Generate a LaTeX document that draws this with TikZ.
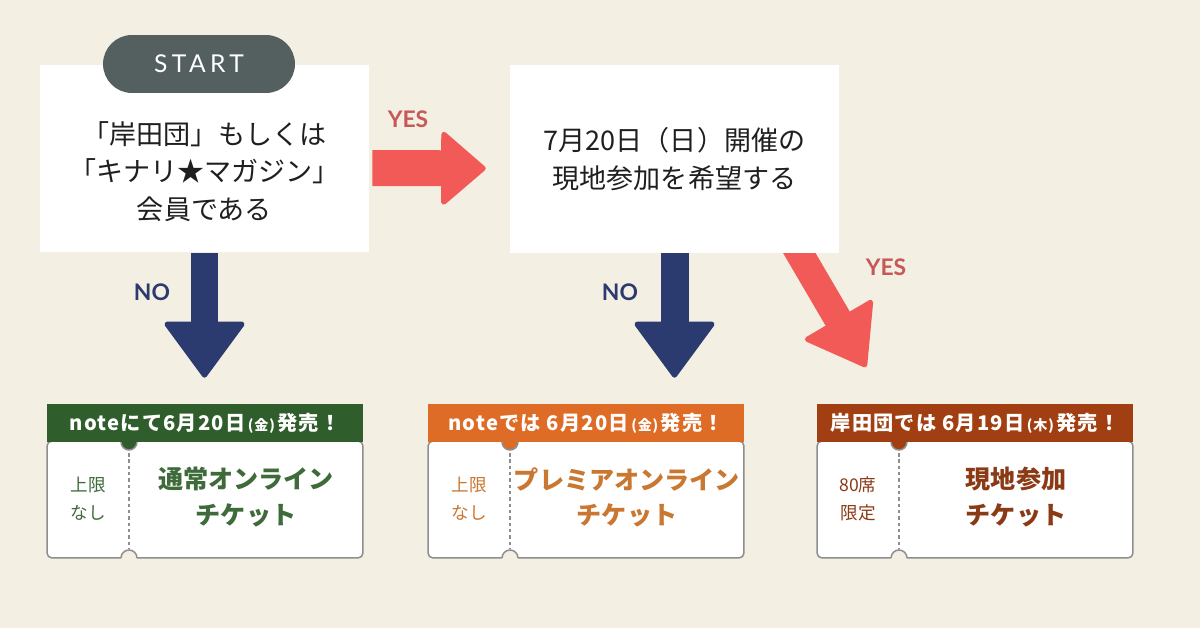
\documentclass[tikz,border=0pt]{standalone}
\usepackage{fontspec}
\setmainfont{Noto Sans CJK JP}
\newfontfamily\latinfont{Lato}
\newfontfamily\startfont{Lato}[LetterSpace=18]
\newfontfamily\hdrfont{Noto Sans CJK JP}[LetterSpace=6]
\usetikzlibrary{arrows.meta,calc,backgrounds}

\definecolor{bgcream}{HTML}{F4EFE3}
\definecolor{yesred}{HTML}{F25A57}
\definecolor{yestext}{HTML}{C65956}
\definecolor{nonavy}{HTML}{2B3A6F}
\definecolor{pillgray}{HTML}{545F60}
\definecolor{tkgray}{HTML}{8E8E8E}
\definecolor{grhead}{HTML}{2F5D2B}
\definecolor{grtext}{HTML}{3E6B39}
\definecolor{orhead}{HTML}{DE6C27}
\definecolor{ortext}{HTML}{C97731}
\definecolor{ruhead}{HTML}{A13F12}
\definecolor{rutext}{HTML}{8A3A15}

% 小号的星期
\newcommand{\yb}[1]{{\fontsize{8}{8}\selectfont\,(#1)\,}}

% 票：名字, 左边x, 表头色, 文字色, 表头, 左侧, 主文字
\newcommand{\ticket}[7]{%
  \node[tkbody] (#1) at ({#2+158},499.5) {};
  \fill[#3] ({#2+82},442) circle (8);
  \draw[tkline] ({#2+74},442) arc (180:0:8);
  \node[tkhead, fill=#3] (#1h) at ({#2+158},423) {#5};
  \draw[tkdash] ({#2+82},453) -- ({#2+82},548);
  \fill[bgcream] ({#2+82},558) circle (8);
  \draw[tkline] ({#2+74},558) arc (180:360:8);
  \node[tkside, text=#4] (#1s) at ({#2+41},499) {#6};
  \node[tkmain, text=#4] (#1m) at ({#2+199},497) {#7};
}

\begin{document}
\begin{tikzpicture}[x=0.02cm, y=-0.02cm,
    qbox/.style={fill=white, minimum width=6.58cm, minimum height=3.76cm, inner sep=0pt},
    qtext/.style={align=center, text=black!88, font=\fontsize{15.4}{21.5}\selectfont},
    startpill/.style={fill=pillgray, rounded corners=0.58cm, minimum width=3.84cm, minimum height=1.16cm, text=white, font=\startfont\fontsize{14}{14}\selectfont},
    yeslbl/.style={text=yestext, font=\latinfont\bfseries\fontsize{13}{13}\selectfont},
    nolbl/.style={text=nonavy, font=\latinfont\bfseries\fontsize{13}{13}\selectfont},
    yesarrow/.style={draw=yesred, line width=0.72cm, -{Triangle[length=0.92cm, width=1.56cm, line width=3pt, round]}},
    diagarrow/.style={draw=yesred, line width=0.56cm, -{Triangle[length=1.16cm, width=1.64cm, line width=3pt, round]}},
    noarrow/.style={draw=nonavy, line width=0.56cm, -{Triangle[length=1.16cm, width=1.68cm, line width=3pt, round]}},
    tkbody/.style={fill=white, draw=tkgray, line width=0.85pt, rounded corners=0.1cm, minimum width=6.32cm, minimum height=2.34cm, inner sep=0pt},
    tkline/.style={draw=tkgray, line width=0.85pt},
    tkdash/.style={draw=tkgray, line width=1pt, dash pattern=on 2pt off 1.6pt},
    tkhead/.style={minimum width=6.32cm, minimum height=0.76cm, inner sep=0pt, text=white, font=\hdrfont\bfseries\fontsize{11.5}{11.5}\selectfont},
    tkside/.style={align=center, font=\fontsize{10}{16}\selectfont},
    tkmain/.style={align=center, font=\bfseries\fontsize{14.3}{20}\selectfont}]
    \useasboundingbox (0,0) rectangle (1200,628);

    % 1. 问题框和 START
    \node[qbox] (q1) at (204.5,158.5) {};
    \node[qtext] (q1t) at (204.5,171.5) {「岸田団」もしくは\\「キナリ★マガジン」\\会員である};
    \node[startpill] (start) at (199,64) {START};
    \node[qbox, qtext] (q2) at (674.5,159) {7月20日（日）開催の\\現地参加を希望する};

    % 2. 三张票
    \ticket{tk1}{47}{grhead}{grtext}{noteにて6月20日\yb{金}発売！}{上限\\なし}{通常オンライン\\チケット}
    \ticket{tk2}{428}{orhead}{ortext}{noteでは 6月20日\yb{金}発売！}{上限\\なし}{プレミアオンライン\\チケット}
    \ticket{tk3}{817}{ruhead}{rutext}{岸田団では 6月19日\yb{木}発売！}{80席\\限定}{現地参加\\チケット}

    % 3. YES / NO
    \node[yeslbl] (yes1) at (408,119) {YES};
    \node[yeslbl] (yes2) at (886,267) {YES};
    \node[nolbl] (no1) at (152,292) {NO};
    \node[nolbl] (no2) at (620,292) {NO};

    % 4. 箭头放在底层
    \coordinate (tip3) at (866,367);
    \begin{pgfonlayer}{background}
        \fill[bgcream] (0,0) rectangle (1200,628);
        \draw[yesarrow, shorten <=0.06cm, shorten >=0.48cm] ([yshift=-0.19cm]q1.east) -- ([yshift=-0.19cm]q2.west);
        \draw[noarrow, shorten >=0.52cm] (q1.south) -- (q1.south |- tk1h.north);
        \draw[noarrow, shorten >=0.52cm] (q2.south) -- (q2.south |- tk2h.north);
        \draw[diagarrow] ($([xshift=2.5cm]q2.south)!-0.15!(tip3)$) -- (tip3);
    \end{pgfonlayer}
\end{tikzpicture}
\end{document}
